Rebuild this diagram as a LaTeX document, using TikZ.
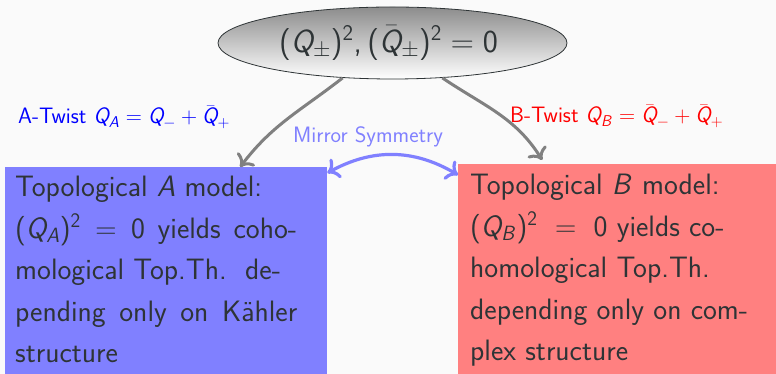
\RequirePackage{fix-cm}
\documentclass[tikz,border=0pt]{standalone}
\usepackage[no-math]{fontspec}
\DeclareSymbolFont{sfletters}{OT1}{cmss}{m}{sl}
\DeclareSymbolFont{sfdigits}{OT1}{cmss}{m}{n}
\DeclareMathSymbol{Q}{\mathalpha}{sfletters}{`Q}
\DeclareMathSymbol{A}{\mathalpha}{sfletters}{`A}
\DeclareMathSymbol{B}{\mathalpha}{sfletters}{`B}
\DeclareMathSymbol{0}{\mathalpha}{sfdigits}{`0}
\DeclareMathSymbol{2}{\mathalpha}{sfdigits}{`2}
\DeclareMathSymbol{(}{\mathopen}{sfdigits}{`(}
\DeclareMathSymbol{)}{\mathclose}{sfdigits}{`)}
\DeclareMathSymbol{,}{\mathpunct}{sfdigits}{`,}
\usetikzlibrary{shapes.geometric,arrows.meta,calc}
\definecolor{bgc}{RGB}{250,250,250}
\definecolor{txt}{RGB}{46,52,54}
\tikzset{
  boxshape/.style={rectangle, inner sep=0pt, anchor=north west},
  boxtext/.style={text=txt, inner sep=0pt, anchor=north west,
    font=\sffamily\fontsize{29.5}{41.5}\selectfont},
  lab/.style={inner sep=0pt, anchor=base west, font=\sffamily\fontsize{22.3}{26}\selectfont},
  cmtip/.tip={Computer Modern Rightarrow[length=11pt,width=22pt]},
  grayarrow/.style={draw=gray, line width=3pt, -cmtip},
  mirrorarrow/.style={draw=blue!50, line width=3.2pt, cmtip-cmtip}
}
\begin{document}
\begin{tikzpicture}[x=1pt,y=1pt]
\fill[bgc] (0,0) rectangle (776,374);
\useasboundingbox (0,0) rectangle (776,374);
% boxes
\node[boxshape, fill=blue!50, minimum width=322pt, minimum height=207pt] (A) at (5,207) {};
\node[boxshape, fill=red!50, minimum width=318pt, minimum height=210pt] (B) at (458,210) {};
\node[boxtext, text width=282pt, align=justify] (At) at (15,198) {Topological $A$ model:\\ $(Q_A)^2=0$ yields coho-\linebreak mological Top.Th.\ \ de-\\ pending only on K\"ahler\linebreak structure};
\node[boxtext, align=left] (Bt) at (470,200) {Topological $B$ model:\\ $(Q_B)^2\ =\ 0$ yields co-\\ homological Top.Th.\\ depending only on com-\\ plex structure};
% ellipse
\node[ellipse, draw=txt, line width=0.8pt, top color=black!45, bottom color=white,
  minimum width=349pt, minimum height=72pt, inner sep=0pt, text=txt,
  font=\sffamily\fontsize{32}{36}\selectfont] (E) at (392.5,331) {$(Q_\pm)^2,(\bar Q_\pm)^2=0$\kern8pt};
% labels
\node[lab, text=blue] (LA) at (18,250) {A-Twist $Q_A=Q_-+\bar Q_+$};
\node[lab, text=red] (LB) at (510,251) {B-Twist $Q_B=\bar Q_-+\bar Q_+$};
\node[lab, text=blue!50] (LM) at (293,231) {Mirror Symmetry};
% arrows
\draw[grayarrow] (E.215) to[out=218,in=53] ([xshift=74pt]A.north);
\draw[grayarrow] (E.-35) to[out=326,in=122] ([xshift=-75pt,yshift=4pt]B.north);
\draw[mirrorarrow] ([yshift=-6pt]A.north east) to[bend left=30] ([yshift=-11pt]B.north west);
\end{tikzpicture}
\end{document}
